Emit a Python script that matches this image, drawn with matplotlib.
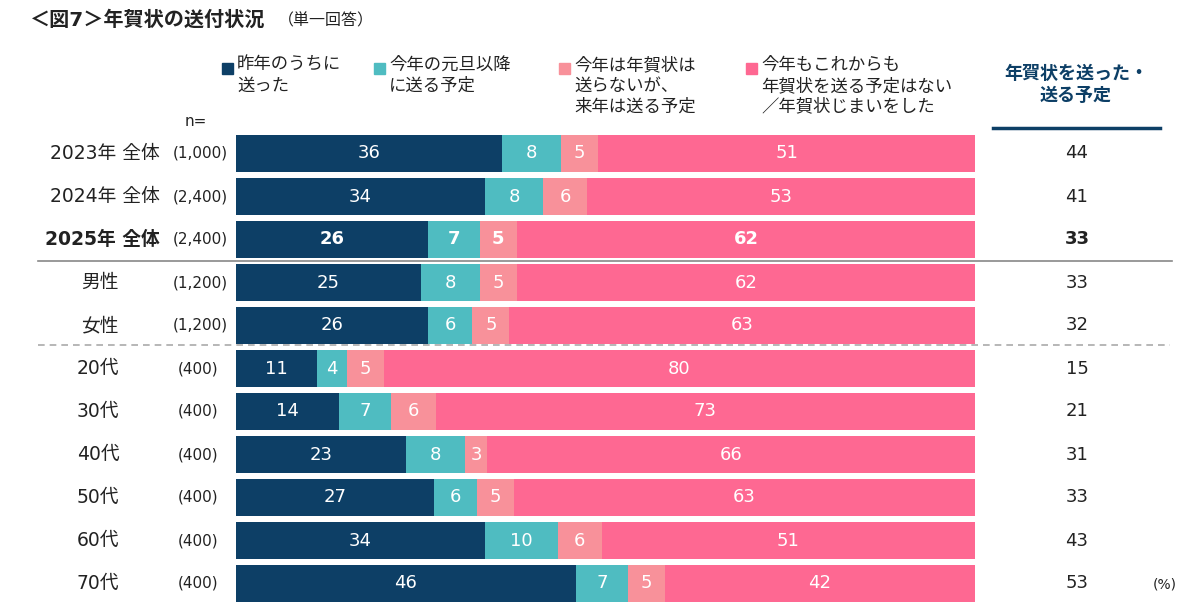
import numpy as np
import matplotlib.pyplot as plt
import matplotlib.transforms as mtransforms
from matplotlib.lines import Line2D
from matplotlib.patches import Rectangle

plt.rcParams['font.family'] = ['DejaVu Sans', 'Noto Sans CJK JP']

rows = ["2023年 全体", "2024年 全体", "2025年 全体", "男性", "女性",
        "20代", "30代", "40代", "50代", "60代", "70代"]
n_sizes = ["(1,000)", "(2,400)", "(2,400)", "(1,200)", "(1,200)",
           "(400)", "(400)", "(400)", "(400)", "(400)", "(400)"]
sent_last_year = [36, 34, 26, 25, 26, 11, 14, 23, 27, 34, 46]
after_newyear = [8, 8, 7, 8, 6, 4, 7, 8, 6, 10, 7]
next_year = [5, 6, 5, 5, 5, 5, 6, 3, 5, 6, 5]
no_plan = [51, 53, 62, 62, 63, 80, 73, 66, 63, 51, 42]
sent_total = [44, 41, 33, 33, 32, 15, 21, 31, 33, 43, 53]

series_names = ["昨年のうちに\n送った", "今年の元旦以降\nに送る予定",
                "今年は年賀状は\n送らないが、\n来年は送る予定",
                "今年もこれからも\n年賀状を送る予定はない\n／年賀状じまいをした"]
colors = ["#0d3f66", "#4fbcc1", "#f8919a", "#fe6892"]
bold_row = 2
txt = '#222222'

W, H = 1200, 614
fig = plt.figure(figsize=(W / 100, H / 100), dpi=100)


def fx(x):
    return x / W


def fy(y):
    return 1 - y / H


# bar area: x 236..975 px, rows from 132..605 px
ax = fig.add_axes([fx(236), fy(605), (975 - 236) / W, (605 - 132) / H])
ax.set_xlim(0, 100)
ax.set_ylim(len(rows) - 0.5, -0.5)
ax.axis('off')

data = np.array([sent_last_year, after_newyear, next_year, no_plan], dtype=float)
shares = data / data.sum(axis=0) * 100
ypos = np.arange(len(rows))
left = np.zeros(len(rows))
for k in range(4):
    ax.barh(ypos, shares[k], left=left, height=0.88, color=colors[k])
    for i in range(len(rows)):
        ax.text(left[i] + shares[k][i] / 2, ypos[i], str(int(data[k][i])),
                ha='center', va='center', color='white', fontsize=13,
                fontweight='bold' if i == bold_row else 'normal')
    left += shares[k]

tr = mtransforms.blended_transform_factory(fig.transFigure, ax.transData)
for i, (lab, n) in enumerate(zip(rows, n_sizes)):
    wt = 'bold' if i == bold_row else 'normal'
    if i < 3:
        ax.text(fx(160), i, lab, transform=tr, ha='right', va='center',
                fontsize=13.5, fontweight=wt, color=txt)
        ax.text(fx(228), i, n, transform=tr, ha='right', va='center',
                fontsize=11, color=txt)
    elif i < 5:
        ax.text(fx(100), i, lab, transform=tr, ha='center', va='center',
                fontsize=13.5, color=txt)
        ax.text(fx(228), i, n, transform=tr, ha='right', va='center',
                fontsize=11, color=txt)
    else:
        ax.text(fx(98), i, lab, transform=tr, ha='center', va='center',
                fontsize=13.5, color=txt)
        ax.text(fx(218), i, n, transform=tr, ha='right', va='center',
                fontsize=11, color=txt)
    ax.text(fx(1077), i, str(sent_total[i]), transform=tr, ha='center',
            va='center', fontsize=13, fontweight=wt, color=txt)

# separators
fig.add_artist(Line2D([fx(38), fx(1172)], [fy(260.5), fy(260.5)],
                      color='#888888', lw=1.2))
fig.add_artist(Line2D([fx(38), fx(1170)], [fy(345), fy(345)],
                      color='#aaaaaa', lw=1.2, ls=(0, (4, 3))))

# title
fig.text(fx(30), fy(20), "＜図7＞年賀状の送付状況", fontsize=14.5,
         fontweight='bold', color=txt, va='center', ha='left')
fig.text(fx(278), fy(21), "（単一回答）", fontsize=11.5, color=txt,
         va='center', ha='left')

# legend
leg_x = [228, 380, 565, 752]
for x, name, c in zip(leg_x, series_names, colors):
    fig.add_artist(Rectangle((fx(x - 6), fy(74)), 11 / W, 11 / H,
                             color=c, transform=fig.transFigure))
    fig.text(fx(x + 9), fy(56), name, fontsize=12.5, color=txt,
             va='top', ha='left', linespacing=1.2)

fig.text(fx(196), fy(121), "n=", fontsize=11, color=txt,
         ha='center', va='center')

# right column header
fig.text(fx(1076), fy(85), "年賀状を送った・\n送る予定", fontsize=13,
         fontweight='bold', color='#0d3f66', ha='center', va='center',
         linespacing=1.3)
fig.add_artist(Line2D([fx(993), fx(1160)], [fy(128), fy(128)],
                      color='#0d3f66', lw=2.5))

fig.text(fx(1165), fy(585), "(%)", fontsize=10, color=txt,
         ha='center', va='center')

fig.savefig("out.png", dpi=100)
plt.close()
